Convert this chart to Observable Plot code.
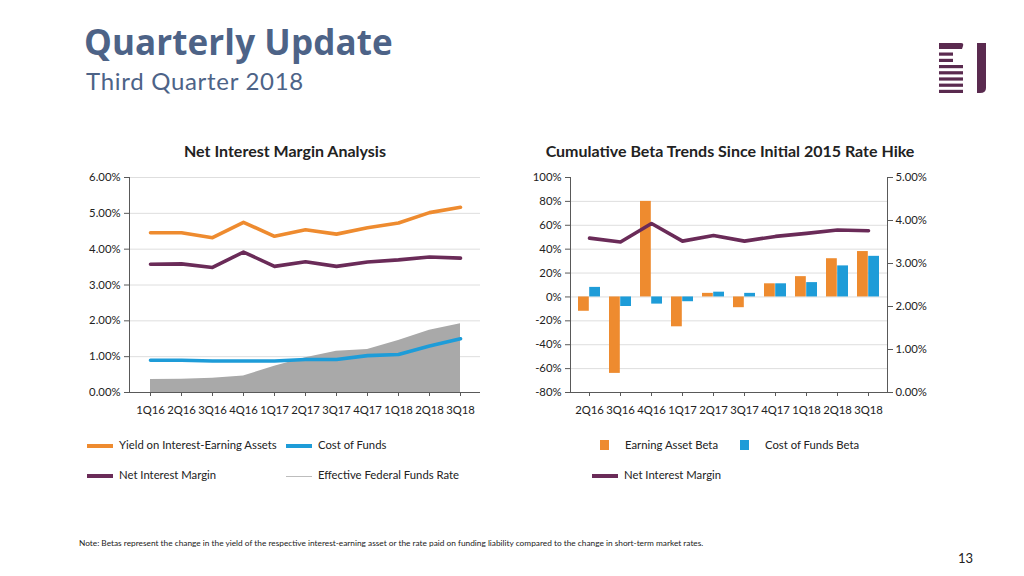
<!DOCTYPE html>
<html><head><meta charset="utf-8">
<script src="https://cdn.jsdelivr.net/npm/d3@7"></script>
<script src="https://cdn.jsdelivr.net/npm/@observablehq/plot@0.6"></script>
<style>
body{margin:0;width:1024px;height:576px;position:relative;background:#fff;font-family:Lato,"Open Sans",sans-serif;overflow:hidden;color:#222}
.abs{position:absolute}
#title{left:84px;top:18px;font-family:"Open Sans",Lato,sans-serif;font-size:35px;font-weight:700;color:#4d6387;white-space:nowrap;letter-spacing:0.1px}
#subtitle{left:86px;top:66px;font-size:24px;color:#4d6387;white-space:nowrap;letter-spacing:0.7px}
.ctitle{font-size:16px;font-weight:700;white-space:nowrap;text-align:center;top:141px}
.leg{font-size:11.3px;white-space:nowrap;color:#222}
.sw{position:absolute}
#note{left:79px;top:538px;font-size:8.3px;white-space:nowrap;color:#222}
#page{left:958px;top:550px;font-size:13px;color:#222}
</style></head><body>
<div id="title" class="abs">Quarterly Update</div>
<div id="subtitle" class="abs">Third Quarter 2018</div>
<svg class="abs" style="left:936px;top:40px" width="56" height="58">
  <g fill="#5a2a4f">
    <path d="M3 3 H25 Q28 3 27 6 L26 9 H3 Z"/>
    <rect x="3" y="12.5" width="14" height="3.2"/>
    <rect x="3" y="18.8" width="14" height="3.2"/>
    <rect x="3" y="25" width="24" height="3.2"/>
    <rect x="3" y="31.2" width="24" height="3.2"/>
    <rect x="3" y="37.4" width="24" height="3.2"/>
    <rect x="3" y="43.6" width="24" height="3.2"/>
    <rect x="3" y="49.8" width="24" height="3.2"/>
    <path d="M41 3 H50 V48 Q50 53 44 53 H41 Z"/>
  </g>
</svg>
<div class="abs ctitle" style="left:285px;transform:translateX(-50%)">Net Interest Margin Analysis</div>
<div class="abs ctitle" style="left:730px;transform:translateX(-50%)">Cumulative Beta Trends Since Initial 2015 Rate Hike</div>
<div id="left" class="abs" style="left:70px;top:165px"></div>
<div id="right" class="abs" style="left:500px;top:165px"></div>
<div id="right2" class="abs" style="left:500px;top:165px"></div>
<div id="legends"></div>
<div id="note" class="abs">Note: Betas represent the change in the yield of the respective interest-earning asset or the rate paid on funding liability compared to the change in short-term market rates.</div>
<div id="page" class="abs">13</div>
<script>
// ---- data ----
const quarters = ["1Q16","2Q16","3Q16","4Q16","1Q17","2Q17","3Q17","4Q17","1Q18","2Q18","3Q18"];
const yieldEarningAssets = [4.46,4.46,4.32,4.75,4.36,4.54,4.42,4.60,4.73,5.02,5.17];
const netInterestMargin = [3.58,3.59,3.49,3.92,3.52,3.65,3.52,3.64,3.70,3.78,3.75];
const costOfFunds = [0.90,0.90,0.88,0.88,0.88,0.92,0.92,1.03,1.06,1.30,1.50];
const effectiveFedFunds = [0.36,0.37,0.40,0.46,0.73,0.97,1.15,1.20,1.45,1.74,1.92];
const leftTicks = [0,1,2,3,4,5,6];

const betaQuarters = ["2Q16","3Q16","4Q16","1Q17","2Q17","3Q17","4Q17","1Q18","2Q18","3Q18"];
const earningAssetBeta = [-12,-64,80,-25,3,-9,11,17,32,38];
const costOfFundsBeta = [8,-8,-6,-4,4,3,11,12,26,34];
const nimBeta = [3.59,3.50,3.93,3.52,3.65,3.52,3.63,3.70,3.78,3.76];
const betaTicks = [-80,-60,-40,-20,0,20,40,60,80,100];
const nimTicks = [0,1,2,3,4,5];

const C = {orange:"#ee8b2f", blue:"#1e9cd8", purple:"#6a2b58", gray:"#a9a9a9", axis:"#595959", grid:"#dedede"};
const font = {fontFamily:"Lato, 'Open Sans', sans-serif", fontSize:"11.3px", color:"#222", background:"transparent", overflow:"visible"};

// ---- left chart ----
const rows = quarters.map((q,i)=>({q, y:yieldEarningAssets[i], n:netInterestMargin[i], c:costOfFunds[i], e:effectiveFedFunds[i]}));
const left = Plot.plot({
  width:420, height:260, marginLeft:59, marginRight:10, marginTop:12, marginBottom:33,
  style:font,
  x:{type:"point", domain:quarters, padding:0.5, label:null, axis:null},
  y:{domain:[0,6], label:null, axis:null},
  marks:[
    Plot.gridY(leftTicks.slice(1), {stroke:C.grid, strokeOpacity:1}),
    Plot.areaY(rows, {x:"q", y:"e", fill:C.gray}),
    Plot.lineY(rows, {x:"q", y:"c", stroke:C.blue, strokeWidth:3.6}),
    Plot.lineY(rows, {x:"q", y:"y", stroke:C.orange, strokeWidth:3.6}),
    Plot.lineY(rows, {x:"q", y:"n", stroke:C.purple, strokeWidth:3.6}),
    Plot.axisY(leftTicks, {anchor:"left", tickSize:5, tickPadding:4, stroke:C.axis, tickFormat:d=>d.toFixed(2)+"%", label:null}),
    Plot.axisX(quarters, {anchor:"bottom", tickSize:4, tickPadding:9, stroke:C.axis, label:null}),
    Plot.frame({anchor:"left", stroke:C.axis}),
    Plot.ruleY([0], {stroke:C.axis})
  ]
});
document.getElementById("left").appendChild(left);

// ---- right chart (bars, left axis) ----
const bars = betaQuarters.flatMap((q,i)=>[
  {q, s:"ea", v:earningAssetBeta[i]},
  {q, s:"cf", v:costOfFundsBeta[i]}
]);
const bandInset = 11.2;
const right = Plot.plot({
  width:440, height:260, marginLeft:70, marginRight:53, marginTop:12, marginBottom:33,
  style:font,
  x:{type:"band", domain:betaQuarters, paddingInner:0.3, paddingOuter:0.15, label:null, axis:null},
  y:{domain:[-80,100], label:null, axis:null},
  marks:[
    Plot.gridY(betaTicks.slice(1, -1), {stroke:C.grid, strokeOpacity:1}),
    Plot.barY(bars.filter(d=>d.s==="ea"), {x:"q", y:"v", fill:C.orange, insetRight:bandInset}),
    Plot.barY(bars.filter(d=>d.s==="cf"), {x:"q", y:"v", fill:C.blue, insetLeft:bandInset}),
    Plot.axisY(betaTicks, {anchor:"left", tickSize:5, tickPadding:4, stroke:C.axis, tickFormat:d=>d+"%", label:null}),
    Plot.axisX(betaQuarters, {anchor:"bottom", tickSize:4, tickPadding:9, stroke:C.axis, label:null}),
    Plot.frame({anchor:"left", stroke:C.axis}),
    Plot.ruleY([-80], {stroke:C.axis})
  ]
});
document.getElementById("right").appendChild(right);

// ---- right chart overlay (NIM, right axis) ----
const nimRows = betaQuarters.map((q,i)=>({q, n:nimBeta[i]}));
const right2 = Plot.plot({
  width:440, height:260, marginLeft:70, marginRight:53, marginTop:12, marginBottom:33,
  style:font,
  x:{type:"band", domain:betaQuarters, paddingInner:0.3, paddingOuter:0.15, label:null, axis:null},
  y:{domain:[0,5], label:null, axis:null},
  marks:[
    Plot.lineY(nimRows, {x:"q", y:"n", stroke:C.purple, strokeWidth:3.6}),
    Plot.axisY(nimTicks, {anchor:"right", tickSize:5, tickPadding:3, stroke:C.axis, tickFormat:d=>d.toFixed(2)+"%", label:null}),
    Plot.frame({anchor:"right", stroke:C.axis})
  ]
});
document.getElementById("right2").appendChild(right2);

// ---- legends ----
const legendItems = [
  {label:"Yield on Interest-Earning Assets", kind:"line", color:C.orange, x:87, y:446},
  {label:"Cost of Funds", kind:"line", color:C.blue, x:286, y:446},
  {label:"Net Interest Margin", kind:"line", color:C.purple, x:87, y:476},
  {label:"Effective Federal Funds Rate", kind:"thin", color:"#bdbdbd", x:286, y:476},
  {label:"Earning Asset Beta", kind:"square", color:C.orange, x:600, y:446},
  {label:"Cost of Funds Beta", kind:"square", color:C.blue, x:740, y:446},
  {label:"Net Interest Margin", kind:"line", color:C.purple, x:592, y:476}
];
const lg = document.getElementById("legends");
legendItems.forEach(it=>{
  const sw = document.createElement("div");
  sw.className = "sw";
  if (it.kind==="square") {
    Object.assign(sw.style,{left:it.x+"px", top:(it.y-6)+"px", width:"9px", height:"10px", background:it.color});
  } else {
    const h = it.kind==="thin" ? 1 : 4;
    Object.assign(sw.style,{left:it.x+"px", top:(it.y-h/2)+"px", width:"26px", height:h+"px", background:it.color});
  }
  lg.appendChild(sw);
  const t = document.createElement("div");
  t.className = "abs leg";
  t.textContent = it.label;
  Object.assign(t.style,{left:(it.kind==="square"? it.x+25 : it.x+32)+"px", top:(it.y-8)+"px"});
  lg.appendChild(t);
});
</script>
</body></html>
